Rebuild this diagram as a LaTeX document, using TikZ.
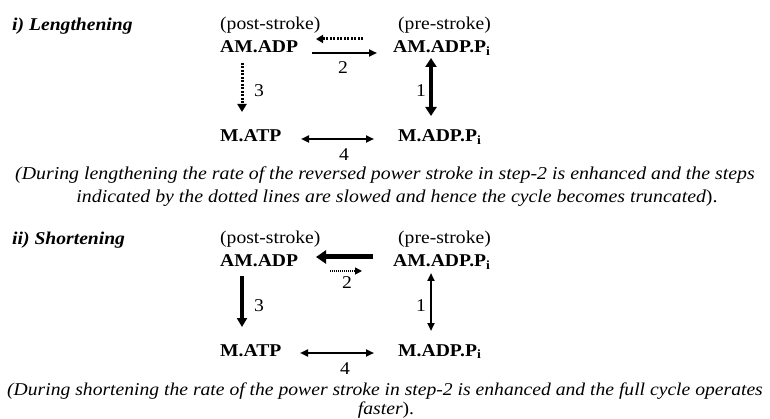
\documentclass[tikz,border=0pt]{standalone}
\usepackage{fontspec}
\setmainfont[FakeStretch=1.09]{Liberation Serif}
\usetikzlibrary{arrows.meta}
\tikzset{
  lbl/.style={anchor=base west,inner sep=0pt,font=\fontsize{18}{20}\selectfont},
  st/.style={anchor=base west,inner sep=0pt,font=\fontsize{18}{20}\selectfont\bfseries},
  num/.style={anchor=base,inner sep=0pt,font=\fontsize{18}{20}\selectfont},
  ttl/.style={anchor=base west,inner sep=0pt,font=\fontsize{18}{20}\selectfont\bfseries\itshape},
  captxt/.style={anchor=base,inner sep=0pt,font=\fontsize{18}{20}\selectfont},
  arr/.style={line width=2pt,-{Triangle[length=8pt,width=7pt]}},
  darr/.style={line width=2pt,{Triangle[length=8pt,width=7pt]}-{Triangle[length=8pt,width=7pt]}},
}
\begin{document}
\begin{tikzpicture}[x=1pt,y=-1pt]
\useasboundingbox (0,0) rectangle (770,419);
% ---------- panel i ----------
\node[ttl] (t1) at (12,31) {i) Lengthening};
\node[lbl] (post1) at (220,30) {(post-stroke)};
\node[lbl] (pre1) at (398,30) {(pre-stroke)};
\node[st] (amadp1) at (220,53) {AM.ADP};
\node[st] (amadppi1) at (393,53) {AM.ADP.P\textsubscript{i}};
\node[st] (matp1) at (220,142) {M.ATP};
\node[st] (madppi1) at (398,142) {M.ADP.P\textsubscript{i}};
\node[num] (n2a) at (343,74) {2};
\node[num] (n3a) at (259,97) {3};
\node[num] (n1a) at (421,97) {1};
\node[num] (n4a) at (344,161) {4};
\node[captxt,font=\fontsize{18.2}{20}\selectfont] (c1a) at (385,180) {\itshape (During lengthening the rate of the reversed power stroke in step-2 is enhanced and the steps};
\node[captxt,font=\fontsize{18.2}{20}\selectfont] (c1b) at (397,203) {\itshape indicated by the dotted lines are slowed and hence the cycle becomes truncated\upshape).};
\coordinate (a2s) at (363,39); \coordinate (a2e) at (316,39);
\coordinate (b2s) at (312,53); \coordinate (b2e) at (377,53);
\coordinate (a3s) at (242,63); \coordinate (a3e) at (242,112);
\coordinate (a1s) at (431,58); \coordinate (a1e) at (431,116);
\coordinate (a4s) at (301,139); \coordinate (a4e) at (374,139);
\draw[line width=3pt,dash pattern=on 2pt off 1.5pt,-{Triangle[length=7pt,width=8pt]}] (a2s) -- (a2e);
\draw[arr] (b2s) -- (b2e);
\draw[line width=3pt,dash pattern=on 2pt off 1.5pt,-{Triangle[length=8pt,width=9pt]}] (a3s) -- (a3e);
\draw[line width=4pt,{Triangle[length=9pt,width=11pt]}-{Triangle[length=9pt,width=11pt]}] (a1s) -- (a1e);
\draw[darr] (a4s) -- (a4e);
% ---------- panel ii ----------
\node[ttl] (t2) at (12,245) {ii) Shortening};
\node[lbl] (post2) at (220,244) {(post-stroke)};
\node[lbl] (pre2) at (398,244) {(pre-stroke)};
\node[st] (amadp2) at (220,267) {AM.ADP};
\node[st] (amadppi2) at (393,267) {AM.ADP.P\textsubscript{i}};
\node[st] (matp2) at (220,356) {M.ATP};
\node[st] (madppi2) at (398,356) {M.ADP.P\textsubscript{i}};
\node[num] (n2b) at (347,289) {2};
\node[num] (n3b) at (259,312) {3};
\node[num] (n1b) at (421,312) {1};
\node[num] (n4b) at (345,374) {4};
\node[captxt] (c2a) at (385,395) {\itshape (During shortening the rate of the power stroke in step-2 is enhanced and the full cycle operates};
\node[captxt] (c2b) at (386,414.5) {\itshape faster\upshape).};
\coordinate (d2s) at (373,257); \coordinate (d2e) at (316,257);
\coordinate (e2s) at (330,271); \coordinate (e2e) at (362,271);
\coordinate (d3s) at (242,276); \coordinate (d3e) at (242,327);
\coordinate (d1s) at (431,273); \coordinate (d1e) at (431,331);
\coordinate (d4s) at (300,353); \coordinate (d4e) at (374,353);
\draw[line width=5pt,-{Triangle[length=10pt,width=13pt]}] (d2s) -- (d2e);
\draw[line width=1.5pt,dash pattern=on 1pt off 1pt,-{Triangle[length=7pt,width=7pt]}] (e2s) -- (e2e);
\draw[line width=3.5pt,-{Triangle[length=9pt,width=10pt]}] (d3s) -- (d3e);
\draw[darr] (d1s) -- (d1e);
\draw[darr] (d4s) -- (d4e);
\end{tikzpicture}
\end{document}
